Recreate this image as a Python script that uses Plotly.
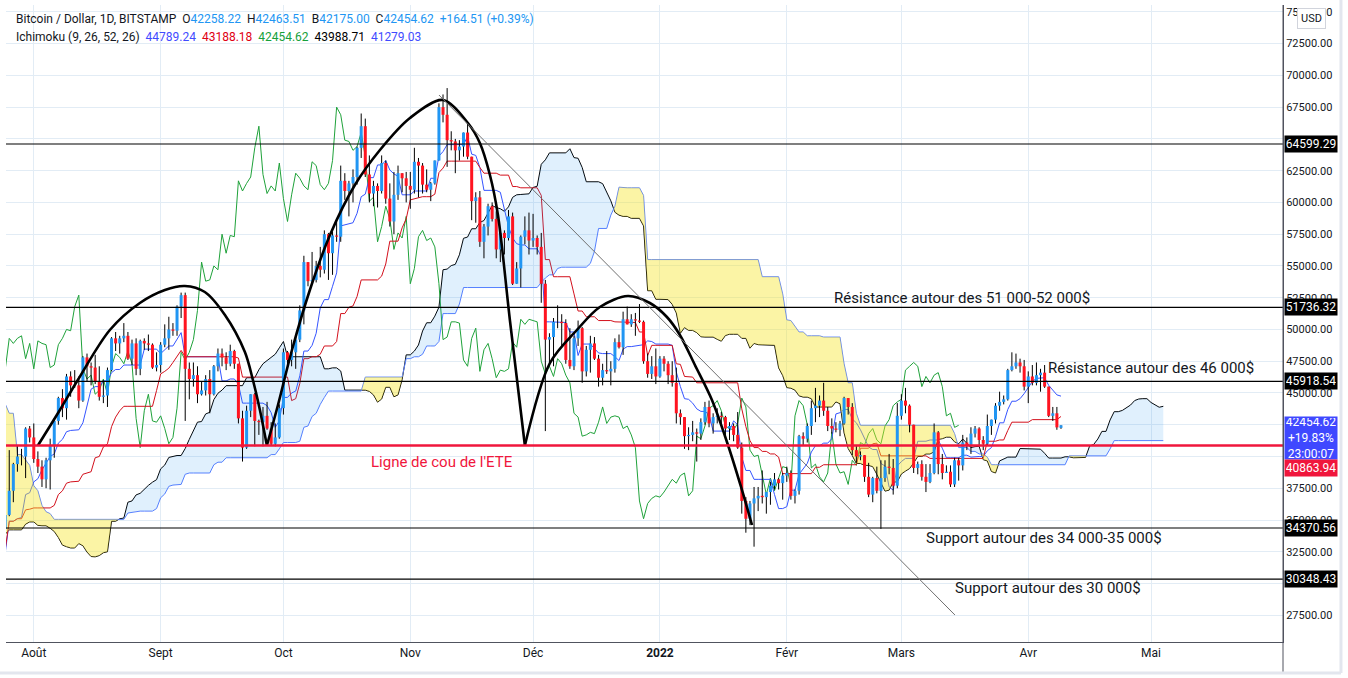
import numpy as np
import pandas as pd
import plotly.graph_objects as go

# ---------------- DATA (daily BTC/USD, Bitstamp) ----------------
START_DATE = "2021-05-10"   # earlier days are only used by the Ichimoku windows

OPEN = [
    # May 10-31 2021
    58250, 55860, 56750, 49150, 49700, 49900, 46750, 46450, 43550, 42900, 36700, 40600, 37300, 37500, 34700, 38800, 38300, 39300, 38500, 35700, 34600, 35700,
    # Jun
    37300, 36700, 37600, 39200, 36900, 35500, 35800, 33600, 33400, 37400, 36700, 37300, 35600, 39100, 40500, 40200, 38300, 38100, 35800, 35500, 35600, 31700, 32500, 33700, 34700, 31600, 32200, 34700, 34500, 35900,
    # Jul
    35000, 33500, 33800, 34700, 35300, 33700, 34200, 33900, 32900, 33800, 33500, 34300, 33100, 32700, 32800, 31800, 31400, 31500, 31800, 30800, 29800, 32100, 32300, 33600, 34300, 35400, 37300, 39400, 40000, 40000, 42200,
    # Aug
    41500, 39800, 39200, 38200, 39700, 40900, 42800, 44600, 43800, 46300, 45600, 45600, 44400, 47800, 47100, 47000, 45900, 44700, 44800, 46800, 49300, 48900, 49300, 49500, 47700, 48900, 46900, 49100, 48900, 48800, 47000,
    # Sep
    47200, 48800, 49300, 50000, 49900, 51800, 52700, 46900, 46100, 46400, 44900, 45200, 46100, 44900, 47100, 48100, 47800, 47300, 48300, 47300, 43000, 40700, 43600, 44900, 42800, 42700, 43200, 42200, 41000, 41500,
    # Oct
    43800, 48200, 47600, 48200, 49200, 51500, 55300, 53800, 53900, 55000, 54700, 57500, 56000, 57400, 57300, 61700, 60900, 61500, 62000, 64300, 66000, 62200, 60700, 61300, 60900, 63100, 60300, 58500, 60600, 62300, 61900,
    # Nov
    61300, 61000, 63200, 62900, 61400, 61000, 61500, 63300, 67500, 66900, 64900, 64800, 64100, 64400, 65500, 63600, 60100, 60400, 56900, 58100, 59700, 58700, 56300, 57600, 57200, 58900, 53600, 54800, 57300, 57800,
    # Dec
    57000, 57200, 56500, 53600, 49200, 49400, 50600, 50600, 50500, 47600, 47100, 49300, 50100, 46700, 48400, 48900, 47700, 46200, 46800, 46700, 46900, 49000, 48600, 50800, 50400, 50800, 50700, 50600, 47500, 46500, 47100,
    # Jan 2022
    46300, 47700, 47300, 46400, 45800, 43400, 43100, 41600, 41700, 41900, 41800, 42700, 43900, 42600, 43100, 43200, 43100, 42200, 42400, 41700, 40700, 36500, 35100, 36300, 36700, 36900, 36800, 37200, 37700, 38200, 37900,
    # Feb
    38500, 38700, 36900, 37300, 41600, 41400, 42400, 43800, 44000, 44400, 43600, 42400, 42200, 42100, 42600, 44600, 43900, 40500, 40000, 40100, 38400, 37000, 38300, 37300, 38300, 39200, 39100, 37700,
    # Mar
    43200, 44400, 44000, 42500, 39100, 39400, 38400, 38000, 38700, 41900, 39400, 38700, 38800, 37800, 39700, 39300, 41100, 40900, 41800, 42200, 41300, 41000, 42400, 42900, 44000, 44300, 44500, 46800, 47100, 47400, 47100,
    # Apr 1-9
    45500, 46300, 45800, 46400, 46600, 45500, 43200, 43400, 42258.22,
]
HIGH = [
    59500, 56900, 58000, 51300, 51500, 50700, 49800, 46600, 45800, 43500, 42500, 42200, 38800, 38300, 39900, 39800, 40900, 40400, 38900, 37300, 36400, 37500,
    37900, 38200, 39500, 39300, 37900, 36500, 36800, 34100, 37500, 38400, 37700, 37400, 39300, 41000, 41300, 40500, 39500, 38200, 36400, 36100, 35700, 33300, 34800, 35200, 35500, 32700, 34700, 35300, 36600, 36000,
    35000, 33900, 34900, 35900, 35300, 35100, 35000, 33900, 34100, 34300, 34600, 34700, 33300, 33100, 33200, 32300, 31900, 32400, 31900, 31000, 32800, 32600, 33600, 34500, 35400, 40500, 39500, 40900, 40600, 42300, 42400,
    42600, 40400, 39700, 39900, 41400, 43000, 44700, 45300, 46500, 46700, 46800, 46300, 47900, 48100, 47400, 48000, 47100, 46000, 47000, 49400, 49800, 49500, 50500, 49800, 49200, 49300, 49200, 49300, 49600, 48900, 48200,
    49000, 50400, 51000, 50500, 51900, 52900, 52900, 47400, 47400, 47100, 45900, 46400, 46800, 47200, 48500, 48500, 48200, 48800, 48400, 47300, 43600, 44000, 44900, 45000, 42900, 43900, 44300, 42700, 42600, 44100,
    48500, 48300, 49200, 49500, 51900, 55800, 55300, 56100, 55400, 56500, 57800, 57600, 57700, 58500, 62900, 62300, 61700, 62600, 64400, 67000, 66600, 63700, 61700, 61500, 63700, 63300, 61500, 62400, 62900, 62300, 62400,
    62400, 64300, 63500, 63100, 62600, 61600, 63300, 67800, 68500, 69000, 65600, 65000, 64900, 65500, 66300, 63600, 60800, 60900, 58300, 59900, 60000, 59300, 57900, 57800, 59400, 59200, 55300, 57400, 58900, 59200,
    59100, 57400, 57600, 53900, 49700, 50900, 51900, 51200, 50800, 50100, 49500, 50700, 50200, 48700, 49500, 49400, 48000, 47300, 48300, 47500, 49300, 49600, 51400, 51800, 51200, 51300, 52000, 50700, 48100, 47900, 48500,
    47900, 47900, 47500, 47500, 47000, 43700, 43100, 42300, 42800, 42200, 43000, 44300, 44400, 43400, 43800, 43500, 43200, 42700, 42600, 43500, 41100, 36800, 36500, 37600, 37600, 38900, 37200, 38000, 38700, 38300, 38700,
    39200, 38900, 37400, 41700, 41900, 42600, 44400, 45400, 44800, 45800, 43900, 43000, 42700, 42800, 44700, 44600, 44200, 40900, 40400, 40100, 39500, 38400, 39200, 39700, 39700, 40200, 39800, 44200,
    44900, 45400, 44100, 42500, 39600, 39700, 39400, 39400, 42600, 42000, 40200, 39300, 39300, 39900, 39900, 41700, 41500, 42300, 42400, 42300, 41600, 43300, 42900, 44200, 45100, 44800, 46900, 48200, 48100, 47700, 47600,
    46700, 47200, 47400, 46900, 47200, 45500, 43900, 43900, 42463.51,
]
LOW = [
    53400, 54400, 48600, 46000, 48800, 46600, 43800, 42100, 42300, 30000, 35000, 33500, 35300, 31100, 34400, 36500, 37800, 37200, 34700, 33400, 33400, 34200,
    35700, 35900, 37200, 35600, 34800, 35300, 33400, 31000, 32400, 35800, 35900, 34600, 34800, 38800, 39500, 38100, 37400, 35200, 34800, 33300, 31300, 28800, 31700, 32300, 31300, 30200, 32000, 33900, 34300, 34100,
    32700, 32700, 33300, 34300, 33200, 33500, 33800, 32200, 32300, 33100, 33300, 32700, 32300, 31600, 31200, 31100, 31200, 31200, 30400, 29300, 29500, 31700, 31900, 33400, 33900, 35300, 36400, 38800, 39300, 38300, 41100,
    39500, 38700, 37600, 37500, 37400, 39900, 42500, 43100, 42900, 44700, 45400, 43800, 44300, 45900, 45600, 45700, 44400, 44200, 43900, 46700, 48300, 48100, 49000, 47600, 47200, 46400, 46400, 48400, 48300, 46900, 46700,
    46600, 48600, 48400, 49500, 49500, 50900, 42800, 44500, 45500, 44200, 44800, 44800, 43400, 44800, 46700, 47100, 46800, 47100, 46900, 42600, 39600, 40600, 43100, 40800, 41700, 40800, 42100, 40900, 40800, 41400,
    43300, 47100, 47100, 46900, 49000, 50400, 53400, 53600, 53700, 54100, 54400, 53900, 54300, 56900, 56900, 60200, 58900, 60000, 61400, 63500, 62000, 60000, 59700, 59600, 60700, 59900, 58100, 57500, 60200, 60800, 60000,
    59500, 60700, 60400, 60700, 60800, 60100, 61400, 63300, 66300, 62800, 64100, 62300, 63300, 63600, 63400, 58600, 58400, 56500, 55600, 57400, 58500, 55600, 55300, 55900, 57000, 53500, 53600, 53300, 56700, 55900,
    56500, 55900, 52100, 42000, 47100, 47100, 50100, 48600, 47300, 46900, 46800, 48700, 45800, 46300, 46600, 47600, 45500, 45600, 46500, 45600, 46600, 48500, 48000, 50400, 50200, 49500, 50500, 47300, 46200, 46100, 45700,
    46200, 46700, 45700, 45500, 42600, 42500, 40600, 40500, 41200, 39600, 41300, 42500, 42300, 41800, 42600, 42600, 41600, 41300, 41200, 40600, 35500, 34000, 34600, 32900, 35700, 36300, 35500, 36200, 37400, 37400, 36600,
    38000, 36600, 36300, 37000, 40900, 41100, 41700, 42700, 43100, 43200, 42000, 41800, 41900, 41600, 42500, 43300, 40100, 39500, 39700, 38000, 36800, 36400, 37100, 34300, 38000, 38600, 37000, 37500,
    42900, 43400, 41900, 38700, 38600, 38100, 37200, 37900, 38600, 38600, 38200, 38700, 37600, 37600, 38100, 38900, 40500, 40200, 41500, 40900, 40500, 40900, 41700, 42600, 43600, 44100, 44400, 46700, 46900, 46600, 45200,
    44200, 45600, 45600, 45100, 45400, 43100, 42800, 42100, 42175.00,
]
CLOSE = [
    55860, 56750, 49150, 49700, 49900, 46750, 46450, 43550, 42900, 36700, 40600, 37300, 37500, 34700, 38800, 38300, 39300, 38500, 35700, 34600, 35700, 37300,
    36700, 37600, 39200, 36900, 35500, 35800, 33600, 33400, 37400, 36700, 37300, 35600, 39100, 40500, 40200, 38300, 38100, 35800, 35500, 35600, 31700, 32500, 33700, 34700, 31600, 32200, 34700, 34500, 35900, 35000,
    33500, 33800, 34700, 35300, 33700, 34200, 33900, 32900, 33800, 33500, 34300, 33100, 32700, 32800, 31800, 31400, 31500, 31800, 30800, 29800, 32100, 32300, 33600, 34300, 35400, 37300, 39400, 40000, 40000, 42200, 41500,
    39800, 39200, 38200, 39700, 40900, 42800, 44600, 43800, 46300, 45600, 45600, 44400, 47800, 47100, 47000, 45900, 44700, 44800, 46800, 49300, 48900, 49300, 49500, 47700, 48900, 46900, 49100, 48900, 48800, 47000, 47200,
    48800, 49300, 50000, 49900, 51800, 52700, 46900, 46100, 46400, 44900, 45200, 46100, 44900, 47100, 48100, 47800, 47300, 48300, 47300, 43000, 40700, 43600, 44900, 42800, 42700, 43200, 42200, 41000, 41500, 43800,
    48200, 47600, 48200, 49200, 51500, 55300, 53800, 53900, 55000, 54700, 57500, 56000, 57400, 57300, 61700, 60900, 61500, 62000, 64300, 66000, 62200, 60700, 61300, 60900, 63100, 60300, 58500, 60600, 62300, 61900, 61300,
    61000, 63200, 62900, 61400, 61000, 61500, 63300, 67500, 66900, 64900, 64800, 64100, 64400, 65500, 63600, 60100, 60400, 56900, 58100, 59700, 58700, 56300, 57600, 57200, 58900, 53600, 54800, 57300, 57800, 57000,
    57200, 56500, 53600, 49200, 49400, 50600, 50600, 50500, 47600, 47100, 49300, 50100, 46700, 48400, 48900, 47700, 46200, 46800, 46700, 46900, 49000, 48600, 50800, 50400, 50800, 50700, 50600, 47500, 46500, 47100, 46300,
    47700, 47300, 46400, 45800, 43400, 43100, 41600, 41700, 41900, 41800, 42700, 43900, 42600, 43100, 43200, 43100, 42200, 42400, 41700, 40700, 36500, 35100, 36300, 36700, 36900, 36800, 37200, 37700, 38200, 37900, 38500,
    38700, 36900, 37300, 41600, 41400, 42400, 43800, 44000, 44400, 43600, 42400, 42200, 42100, 42600, 44600, 43900, 40500, 40000, 40100, 38400, 37000, 38300, 37300, 38300, 39200, 39100, 37700, 43200,
    44400, 44000, 42500, 39100, 39400, 38400, 38000, 38700, 41900, 39400, 38700, 38800, 37800, 39700, 39300, 41100, 40900, 41800, 42200, 41300, 41000, 42400, 42900, 44000, 44300, 44500, 46800, 47100, 47400, 47100, 45500,
    46300, 45800, 46400, 46600, 45500, 43200, 43400, 42290.11, 42454.62,
]

N = len(CLOSE)
assert len(OPEN) == N and len(HIGH) == N and len(LOW) == N, (len(OPEN), len(HIGH), len(LOW), N)
DATES = pd.date_range(START_DATE, periods=N, freq="D")

# axes
X_RANGE = ["2021-07-25 05:00", "2022-06-02 06:00"]
Y_RANGE = [25396, 75541]
MONTH_TICKS = ["2021-08-01", "2021-09-01", "2021-10-01", "2021-11-01", "2021-12-01",
               "2022-01-01", "2022-02-01", "2022-03-01", "2022-04-01", "2022-05-01"]
MONTH_LABELS = ["Août", "Sept", "Oct", "Nov", "Déc", "<b>2022</b>", "Févr", "Mars", "Avr", "Mai"]
PRICE_TICKS = [27500 + 2500 * i for i in range(20)]
HIDDEN_PRICE_LABELS = [30000, 40000, 42500, 65000]   # covered by the price tags

# Ichimoku settings
TENKAN_LEN, KIJUN_LEN, SPANB_LEN, DISPLACEMENT = 9, 26, 52, 26

# horizontal levels / drawings
LEVELS = [64599.29, 51736.32, 45918.54, 34370.56, 30348.43]
NECKLINE = 40863.94
TREND_X = ["2021-11-08 00:00", "2022-03-14 02:00"]
TREND_Y = [68456, 27522]

ARC1_X = ["2021-08-02 00:00", "2021-08-07 09:00", "2021-08-11 18:00", "2021-08-19 14:00", "2021-08-26 22:00",
          "2021-09-02 01:00", "2021-09-06 22:00", "2021-09-11 19:00", "2021-09-16 17:00", "2021-09-21 14:00",
          "2021-09-23 13:00", "2021-09-25 06:00", "2021-09-26 23:00"]
ARC1_Y = [40864, 43659, 46021, 49957, 52082, 53106, 53421, 52948, 51138, 48225, 46021, 43659, 40864]

ARC2_X = ["2021-09-26 23:00", "2021-09-29 16:00", "2021-10-03 02:00", "2021-10-07 11:00", "2021-10-12 09:00",
          "2021-10-18 11:00", "2021-10-24 14:00", "2021-10-31 22:00", "2021-11-08 23:00", "2021-11-15 02:00",
          "2021-11-18 00:00", "2021-11-20 11:00", "2021-11-22 10:00", "2021-11-25 08:00", "2021-11-29 00:00"]
ARC2_Y = [40864, 44053, 48383, 53106, 57435, 61371, 64127, 66646, 68063, 66252, 64678, 62159, 59010, 50744, 40864]

ARC3_X = ["2021-11-29 00:00", "2021-12-05 03:00", "2021-12-11 17:00", "2021-12-17 08:00", "2021-12-24 04:00",
          "2021-12-29 13:00", "2022-01-02 17:00", "2022-01-05 21:00", "2022-01-09 13:00", "2022-01-13 17:00",
          "2022-01-17 15:00", "2022-01-21 01:00", "2022-01-23 12:00"]
ARC3_Y = [40864, 47359, 49957, 51768, 52634, 52083, 50980, 49563, 47202, 44447, 40904, 37362, 34607]

TEXT_NOTES = [
    ("Résistance autour des 51 000-52 000$", "2022-03-15 19:00", 52476, "#131722"),
    ("Résistance autour des 46 000$", "2022-05-01 02:00", 46966, "#131722"),
    ("Support autour des 34 000-35 000$", "2022-04-04 19:00", 33583, "#131722"),
    ("Support autour des 30 000$", "2022-04-05 19:00", 29647, "#131722"),
    ("Ligne de cou de l'ETE", "2021-11-08 17:00", 39566, "#F0163C"),
]

HEADER_LINE1 = [("Bitcoin / Dollar, 1D, BITSTAMP", None), ("O", None), ("42258.22", "B"), ("H", None),
                ("42463.51", "B"), ("B", None), ("42175.00", "B"), ("C", None), ("42454.62", "B"),
                ("+164.51 (+0.39%)", "B")]
HEADER_LINE2 = [("Ichimoku (9, 26, 52, 26)", "#131722"), ("44789.24", "#3F4BFF"), ("43188.18", "#E00012"),
                ("42454.62", "#16A03A"), ("43988.71", "#000000"), ("41279.03", "#3F4BFF")]
LAST_TAG = ["42454.62", "+19.83%", "23:00:07"]

# ---------------- COLOURS / STYLE ----------------
FONT = "Roboto"
UP_COL = "#2196F3"
DOWN_COL = "#FF1420"
GRID = "#E2ECF5"
TENKAN_COL = "#3554FF"
KIJUN_COL = "#D3101C"
CHIKOU_COL = "#1FA23A"
SPANA_COL = "#000000"
SPANB_COL = "#5A80FF"
BULL_FILL = "rgba(33,150,243,0.14)"
BEAR_FILL = "rgba(245,228,40,0.42)"
NECK_COL = "#F0163C"

# ---------------- ICHIMOKU ----------------
h = pd.Series(HIGH, index=DATES, dtype=float)
l = pd.Series(LOW, index=DATES, dtype=float)
c = pd.Series(CLOSE, index=DATES, dtype=float)


def midpoint(n):
    return (h.rolling(n).max() + l.rolling(n).min()) / 2


tenkan = midpoint(TENKAN_LEN)
kijun = midpoint(KIJUN_LEN)
span_a = (tenkan + kijun) / 2
span_b = midpoint(SPANB_LEN)
shift = pd.Timedelta(days=DISPLACEMENT - 1)
lead_x = DATES + shift
lag_x = DATES - shift

fig = go.Figure()


def line_trace(x, y, color, width=1.0):
    fig.add_trace(go.Scatter(x=x, y=y, mode="lines", line=dict(color=color, width=width),
                             hoverinfo="skip", showlegend=False))


line_trace(lead_x, span_a.values, SPANA_COL)
line_trace(lead_x, span_b.values, SPANB_COL)
line_trace(lag_x, c.values, CHIKOU_COL)
line_trace(DATES, tenkan.values, TENKAN_COL)
line_trace(DATES, kijun.values, KIJUN_COL)

# cloud fills, split where span A crosses span B
mask = ~(np.isnan(span_a.values) | np.isnan(span_b.values))
xn = lead_x[mask].asi8.astype(float)
a = span_a.values[mask]
b = span_b.values[mask]
segs = []
cx, ca, cb = [xn[0]], [a[0]], [b[0]]
sgn = a[0] >= b[0]
for i in range(1, len(xn)):
    s = a[i] >= b[i]
    if s != sgn:
        d0 = a[i - 1] - b[i - 1]
        d1 = a[i] - b[i]
        t = d0 / (d0 - d1)
        xc = xn[i - 1] + t * (xn[i] - xn[i - 1])
        yc = a[i - 1] + t * (a[i] - a[i - 1])
        cx.append(xc); ca.append(yc); cb.append(yc)
        segs.append((cx, ca, cb, sgn))
        cx, ca, cb = [xc], [yc], [yc]
        sgn = s
    cx.append(xn[i]); ca.append(a[i]); cb.append(b[i])
segs.append((cx, ca, cb, sgn))
for sx, sa, sb, bull in segs:
    px = pd.to_datetime(np.array(sx + sx[::-1]).astype("int64"), unit="ns")
    fig.add_trace(go.Scatter(x=px, y=list(sa) + list(sb[::-1]), mode="lines", fill="toself",
                             fillcolor=BULL_FILL if bull else BEAR_FILL,
                             line=dict(width=0, color="rgba(0,0,0,0)"),
                             hoverinfo="skip", showlegend=False))

# candle wicks
wx, wy = [], []
for d, hi, lo in zip(DATES, HIGH, LOW):
    wx += [d, d, None]
    wy += [lo, hi, None]
fig.add_trace(go.Scatter(x=wx, y=wy, mode="lines", line=dict(color="#000000", width=1),
                         hoverinfo="skip", showlegend=False))

# candle bodies
for up, col in ((True, UP_COL), (False, DOWN_COL)):
    bx, by = [], []
    for d, o, cl in zip(DATES, OPEN, CLOSE):
        if (cl >= o) == up:
            bx += [d, d, None]
            by += [o, cl, None]
    fig.add_trace(go.Scatter(x=bx, y=by, mode="lines", line=dict(color=col, width=3),
                             hoverinfo="skip", showlegend=False))

# head & shoulders drawing
for ax_, ay_ in ((ARC1_X, ARC1_Y), (ARC2_X, ARC2_Y), (ARC3_X, ARC3_Y)):
    fig.add_trace(go.Scatter(x=ax_, y=ay_, mode="lines",
                             line=dict(color="#000000", width=2.6, shape="spline", smoothing=0.9),
                             hoverinfo="skip", showlegend=False))

shapes = []
for v in LEVELS:
    shapes.append(dict(type="line", xref="paper", x0=0, x1=1, yref="y", y0=v, y1=v,
                       line=dict(color="#000000", width=1.2)))
shapes.append(dict(type="line", xref="paper", x0=0, x1=1, yref="y", y0=NECKLINE, y1=NECKLINE,
                   line=dict(color=NECK_COL, width=2.6)))
shapes.append(dict(type="line", xref="x", yref="y", x0=TREND_X[0], y0=TREND_Y[0], x1=TREND_X[1], y1=TREND_Y[1],
                   line=dict(color="#707070", width=1)))
# right price-scale divider extending into time scale
shapes.append(dict(type="line", xref="paper", yref="paper", x0=1, x1=1, y0=-0.047, y1=1,
                   line=dict(color="#50535E", width=1)))
# light outer frame (right and bottom)
shapes.append(dict(type="line", xref="paper", yref="paper", x0=1.0454, x1=1.0454, y0=-0.0487, y1=1.0078,
                   line=dict(color="#E3E6EE", width=3)))
shapes.append(dict(type="line", xref="paper", yref="paper", x0=-0.0047, x1=1.0454, y0=-0.0487, y1=-0.0487,
                   line=dict(color="#E3E6EE", width=3)))

annotations = []
for txt, x, y, col in TEXT_NOTES:
    annotations.append(dict(text=txt, x=x, y=y, xref="x", yref="y", showarrow=False,
                            xanchor="center", yanchor="middle",
                            font=dict(family=FONT, size=15, color=col)))


def span(t, col):
    if col is None:
        return f"<span style='color:#131722'>{t}</span>"
    if col == "B":
        col = "#2196F3"
    return f"<span style='color:{col}'>{t}</span>"


l1 = (span(HEADER_LINE1[0][0], None) + "&nbsp;&nbsp;" +
      "&nbsp;&nbsp;".join(span(HEADER_LINE1[i][0], None) + span(HEADER_LINE1[i + 1][0], "B")
                          for i in range(1, 9, 2)) +
      "&nbsp;&nbsp;" + span(HEADER_LINE1[9][0], "B"))
l2 = "&nbsp;&nbsp;".join(span(t, col) for t, col in HEADER_LINE2)
for txt, ys in ((l1, -5), (l2, -23)):
    annotations.append(dict(text=txt, xref="paper", yref="paper", x=0, y=1,
                            xanchor="left", yanchor="top", xshift=8, yshift=ys, align="left",
                            showarrow=False, font=dict(family=FONT, size=12, color="#131722")))

# price tags on the right scale
for v in LEVELS:
    annotations.append(dict(text=f"{v:.2f}", xref="paper", x=1, y=v, yref="y", xanchor="left",
                            yanchor="middle", xshift=1, showarrow=False, bgcolor="#000000",
                            width=50, height=14, borderpad=1,
                            font=dict(family=FONT, size=12, color="#FFFFFF")))
annotations.append(dict(text="<br>".join(LAST_TAG), xref="paper", x=1, y=float(CLOSE[-1]), yref="y",
                        xanchor="left", yanchor="top", xshift=1, yshift=9, showarrow=False,
                        bgcolor="#3F48FF", width=50, height=40, borderpad=1,
                        font=dict(family=FONT, size=12, color="#FFFFFF")))
annotations.append(dict(text=f"{NECKLINE:.2f}", xref="paper", x=1, y=NECKLINE, yref="y",
                        xanchor="left", yanchor="middle", xshift=1, yshift=-22, showarrow=False,
                        bgcolor=NECK_COL, width=50, height=14, borderpad=1,
                        font=dict(family=FONT, size=12, color="#FFFFFF")))
annotations.append(dict(text="USD", xref="paper", yref="paper", x=1, y=1, xanchor="center",
                        yanchor="top", xshift=28, yshift=-3, showarrow=False, bgcolor="#FFFFFF",
                        bordercolor="#D1D4DC", borderwidth=1, borderpad=3,
                        font=dict(family=FONT, size=11, color="#131722")))

fig.update_layout(
    width=1348, height=678,
    margin=dict(l=6, r=65, t=5, b=36),
    paper_bgcolor="#FFFFFF", plot_bgcolor="#FFFFFF",
    showlegend=False,
    font=dict(family=FONT, size=12, color="#131722"),
    shapes=shapes, annotations=annotations,
    xaxis=dict(type="date", range=X_RANGE, tickvals=MONTH_TICKS, ticktext=MONTH_LABELS,
               showgrid=True, gridcolor=GRID, gridwidth=1, zeroline=False,
               showline=True, linecolor="#50535E", linewidth=1, ticks="",
               tickfont=dict(family=FONT, size=12, color="#131722"), fixedrange=True),
    yaxis=dict(range=Y_RANGE, side="right", tickvals=PRICE_TICKS,
               ticktext=["" if v in HIDDEN_PRICE_LABELS else f"{v:.2f}" for v in PRICE_TICKS],
               showgrid=True, gridcolor=GRID, gridwidth=1, zeroline=False,
               showline=True, linecolor="#50535E", linewidth=1, ticks="",
               tickfont=dict(family=FONT, size=11, color="#131722"), fixedrange=True),
)

fig.write_html("out.html", config={"displayModeBar": False})
